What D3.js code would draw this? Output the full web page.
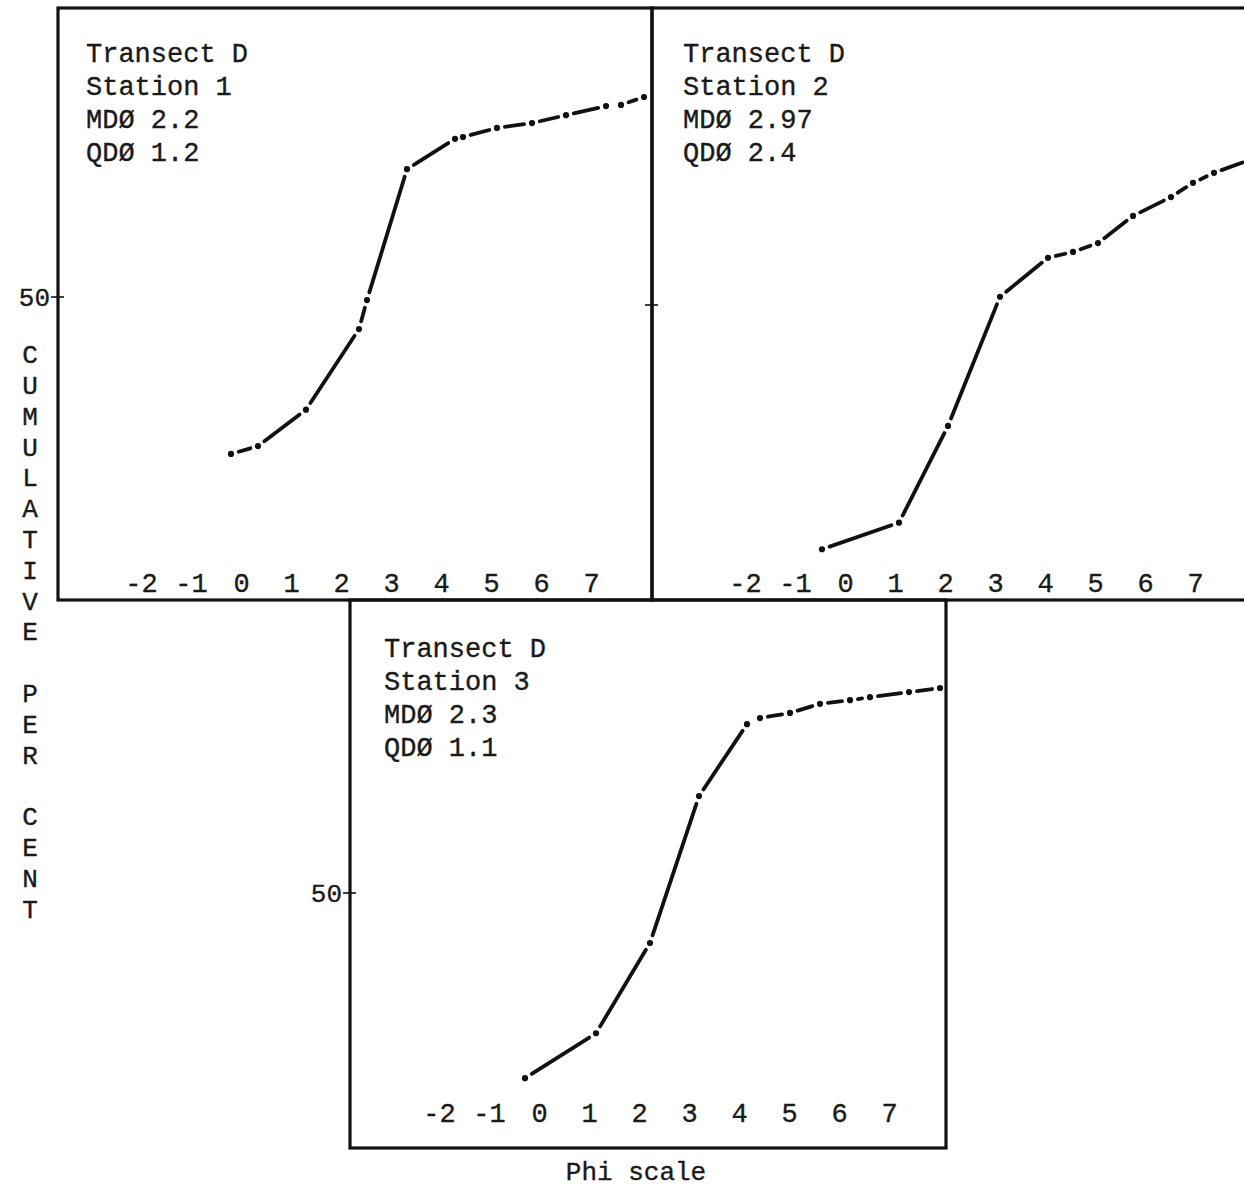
<!DOCTYPE html>
<html>
<head>
<meta charset="utf-8">
<script src="https://cdn.jsdelivr.net/npm/d3@7"></script>
<style>
  body { margin: 0; background: #fff; }
  text { font-family: "Liberation Mono", "DejaVu Sans Mono", monospace; fill: #1a1a1a;
         stroke: #1a1a1a; stroke-width: 0.35px; }
</style>
</head>
<body>
<div id="chart"></div>
<script>
// phi scale ticks and axis titles
var phiTicks = [-2, -1, 0, 1, 2, 3, 4, 5, 6, 7];
var yTitle = "CUMULATIVE PER CENT";
var xTitle = "Phi scale";

// cumulative per cent curves
var station1Phi = [-0.2, 0.34, 1.3, 2.36, 2.52, 3.32, 4.28, 4.44, 5.12, 5.82, 6.5, 7.3, 7.6, 8.06];
var station1Pct = [24.1, 25.4, 31.4, 44.7, 49.5, 71.1, 76.1, 76.4, 77.9, 78.7, 80.0, 81.5, 81.7, 83.0];

var station2Phi = [-0.46, 1.08, 2.06, 3.1, 4.06, 4.56, 5.06, 5.76, 6.52, 6.96, 7.38, 8.1];
var station2Pct = [8.6, 13.1, 29.5, 51.4, 58.0, 59.0, 60.5, 65.1, 68.3, 70.7, 72.4, 74.6];

var station3Phi = [-0.28, 1.14, 2.22, 3.2, 4.16, 4.42, 5.02, 5.62, 6.22, 6.62, 7.4, 8.02];
var station3Pct = [13.7, 22.5, 40.2, 69.0, 83.1, 84.3, 85.3, 87.1, 87.8, 88.4, 89.4, 90.2];

var station1Text = ["Transect D", "Station 1", "MDØ 2.2", "QDØ 1.2"];
var station2Text = ["Transect D", "Station 2", "MDØ 2.97", "QDØ 2.4"];
var station3Text = ["Transect D", "Station 3", "MDØ 2.3", "QDØ 1.1"];

var width = 1244, height = 1191;

var svg = d3.select("#chart").append("svg")
    .attr("width", width)
    .attr("height", height);

svg.append("rect").attr("width", width).attr("height", height).attr("fill", "#fff");

// panel frames
var panels = [
    { left: 58, right: 652, top: 8, bottom: 600, xr: [241, 591], yr: [600, 297], axisY: 573,
      textX: 86, textY: 62, label50: true },
    { left: 652, right: 1260, top: 8, bottom: 600, xr: [845, 1195], yr: [600, 305], axisY: 573,
      textX: 683, textY: 62, label50: false },
    { left: 350, right: 946, top: 600, bottom: 1148, xr: [539, 889], yr: [1148, 893], axisY: 1103,
      textX: 384, textY: 657, label50: true }
];

function drawPanel(p, phi, pct, lines) {
    var g = svg.append("g");

    var x = d3.scaleLinear().domain([0, 7]).range(p.xr);
    var y = d3.scaleLinear().domain([0, 50]).range(p.yr);

    g.append("rect")
        .attr("x", p.left)
        .attr("y", p.top)
        .attr("width", p.right - p.left)
        .attr("height", p.bottom - p.top)
        .attr("fill", "none")
        .attr("stroke", "#111")
        .attr("stroke-width", 3.2);

    // 50 per cent tick across the left frame
    g.append("line")
        .attr("x1", p.left - 7).attr("x2", p.left + 6)
        .attr("y1", y(50)).attr("y2", y(50))
        .attr("stroke", "#111").attr("stroke-width", 1.6);

    if (p.label50) {
        g.append("text")
            .attr("x", p.left - 8)
            .attr("y", y(50))
            .attr("dy", "0.35em")
            .attr("text-anchor", "end")
            .style("font-size", "26px")
            .text("50");
    }

    var xaxis = d3.axisBottom(x)
        .tickValues(phiTicks)
        .tickSize(0)
        .tickPadding(0)
        .tickFormat(function(d) { return String(d); });

    var ax = g.append("g")
        .attr("transform", "translate(0," + p.axisY + ")")
        .call(xaxis);
    ax.select(".domain").remove();
    ax.selectAll("text")
        .style("font-size", "27px")
        .style("font-family", "'Liberation Mono', monospace")
        .attr("fill", "#1a1a1a");

    // dash-dot curve: a dot at every reading, short gaps round it
    var pts = phi.map(function(d, i) { return [x(d), y(pct[i])]; });
    var gap = 8;
    var segs = d3.pairs(pts).map(function(pr) {
        var a = pr[0], b = pr[1];
        var dx = b[0] - a[0], dy = b[1] - a[1];
        var len = Math.sqrt(dx * dx + dy * dy);
        var ux = dx / len, uy = dy / len;
        return { len: len, x1: a[0] + ux * gap, y1: a[1] + uy * gap,
                 x2: b[0] - ux * gap, y2: b[1] - uy * gap };
    }).filter(function(s) { return s.len > 2 * gap + 3; });

    g.selectAll("line.seg")
        .data(segs)
        .enter()
        .append("line")
        .attr("class", "seg")
        .attr("x1", function(d) { return d.x1; })
        .attr("y1", function(d) { return d.y1; })
        .attr("x2", function(d) { return d.x2; })
        .attr("y2", function(d) { return d.y2; })
        .attr("stroke", "#111")
        .attr("stroke-width", 3.8)
        .attr("stroke-linecap", "round");

    g.selectAll("circle.pt")
        .data(pts)
        .enter()
        .append("circle")
        .attr("class", "pt")
        .attr("cx", function(d) { return d[0]; })
        .attr("cy", function(d) { return d[1]; })
        .attr("r", 3.1)
        .attr("fill", "#111");

    g.selectAll("text.note")
        .data(lines)
        .enter()
        .append("text")
        .attr("class", "note")
        .attr("x", p.textX)
        .attr("y", function(d, i) { return p.textY + i * 33; })
        .style("font-size", "27px")
        .text(function(d) { return d; });
}

drawPanel(panels[0], station1Phi, station1Pct, station1Text);
drawPanel(panels[1], station2Phi, station2Pct, station2Text);
drawPanel(panels[2], station3Phi, station3Pct, station3Text);

// vertical stacked y title
svg.append("g")
    .selectAll("text")
    .data(yTitle.split(""))
    .enter()
    .append("text")
    .attr("x", 30)
    .attr("y", function(d, i) { return 354 + i * 30.8; })
    .attr("dy", "0.35em")
    .attr("text-anchor", "middle")
    .style("font-size", "26px")
    .text(function(d) { return d; });

svg.append("text")
    .attr("x", 636)
    .attr("y", 1180)
    .attr("text-anchor", "middle")
    .style("font-size", "26px")
    .text(xTitle);
</script>
</body>
</html>
